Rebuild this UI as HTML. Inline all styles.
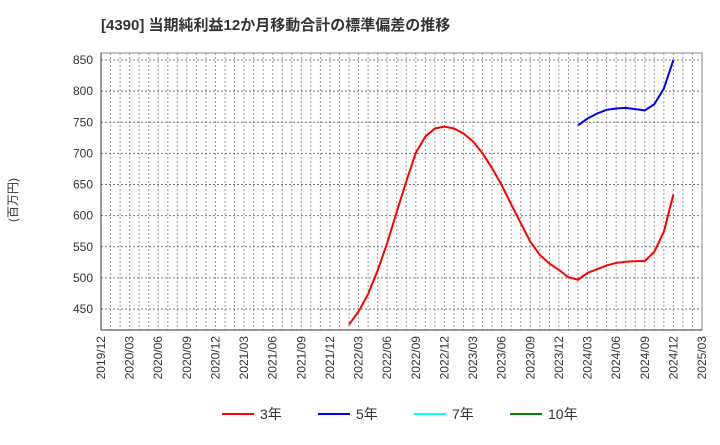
<!DOCTYPE html>
<html><head><meta charset="utf-8"><style>
body{margin:0;background:#fff;}
svg text{font-family:"Liberation Sans","Noto Sans CJK JP",sans-serif;}
</style></head><body>
<svg id="c" width="720" height="440" xmlns="http://www.w3.org/2000/svg">
<text x="101" y="30" font-size="15" font-weight="bold" fill="#333">[4390]  当期純利益12か月移動合計の標準偏差の推移</text>
<text transform="translate(17,200) rotate(-90)" font-size="12" fill="#333" text-anchor="middle">(百万円)</text>
<g id="grid"></g>
<g id="ax"></g>
<g id="ser"></g>
<g id="leg"></g>
</svg>
<script>
const yTicks=[450,500,550,600,650,700,750,800,850];
const xLabels=["2019/12","2020/03","2020/06","2020/09","2020/12","2021/03","2021/06","2021/09","2021/12","2022/03","2022/06","2022/09","2022/12","2023/03","2023/06","2023/09","2023/12","2024/03","2024/06","2024/09","2024/12","2025/03"];
const red3Start=26;
const red3=[425,446,474,512,556,606,655,701,727,740,743,740,732,719,700,676,649,618,588,558,537,523,513,501,497,508,514,520,524,526,527,527,542,574,634];
const blue5Start=50;
const blue5=[745,756,764,770,772,773,771,769,779,804,850];
const legendNames=["3年","5年","7年","10年"];
const legendColors=["#f00","#00f","#0ff","#080"];
const X0=101,X1=702,Y0=53,Y1=330,NM=63;
const xs=m=>X0+(X1-X0)*m/NM;
const ys=v=>60+(850-v)*(309-60)/400;
const NS="http://www.w3.org/2000/svg";
function mk(p,t,a){const e=document.createElementNS(NS,t);for(const k in a)e.setAttribute(k,a[k]);p.appendChild(e);return e;}
const grid=document.getElementById('grid'),ax=document.getElementById('ax'),ser=document.getElementById('ser'),leg=document.getElementById('leg');
for(let m=1;m<NM;m++){const l=mk(grid,'line',{x1:xs(m),x2:xs(m),y1:Y0,y2:Y1,stroke:'#999','stroke-dasharray':'2,2','stroke-width':1});

}
yTicks.forEach(v=>{const l=mk(grid,'line',{x1:X0,x2:X1,y1:ys(v),y2:ys(v),stroke:'#777','stroke-dasharray':'2,2','stroke-width':1});


const t=mk(ax,'text',{x:X0-8,y:ys(v)+4,'font-size':12,'text-anchor':'end',fill:'#333'});t.textContent=v;

});
mk(ax,'rect',{x:X0,y:Y0,width:X1-X0,height:Y1-Y0,fill:'none',stroke:'#888'});
mk(ax,'line',{x1:X0,x2:X0,y1:Y0,y2:Y1,stroke:'#333'});
mk(ax,'line',{x1:X0,x2:X1,y1:Y1,y2:Y1,stroke:'#333'});
xLabels.forEach((s,i)=>{const x=xs(i*3);const t=mk(ax,'text',{transform:`translate(${x+4},${Y1+6}) rotate(-90)`,'font-size':12,'text-anchor':'end',fill:'#333'});t.textContent=s;

});
function line(arr,start,col,name){const p=mk(ser,'polyline',{points:arr.map((v,i)=>xs(start+i)+','+ys(v)).join(' '),fill:'none',stroke:col,'stroke-width':2});

}
line(red3,red3Start,'#f00','series-3y');
line(blue5,blue5Start,'#00f','series-5y');
const lx=[222,318,414,510];
legendNames.forEach((n,i)=>{const g=mk(leg,'g',{});


mk(g,'line',{x1:lx[i],x2:lx[i]+32,y1:414,y2:414,stroke:legendColors[i],'stroke-width':2});
const t=mk(g,'text',{x:lx[i]+38,y:419,'font-size':14,fill:'#333'});t.textContent=n;});
</script>
</body></html>
